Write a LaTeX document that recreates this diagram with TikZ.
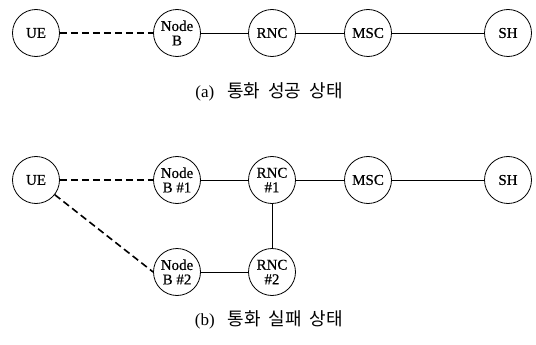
\documentclass[tikz,border=0pt]{standalone}
\usepackage{fontspec}
\setmainfont{Liberation Serif}
\newfontfamily\labelfont[FakeBold=0.5]{Liberation Serif}
\newfontfamily\kofont{Noto Sans CJK KR}
\newcommand\capgap{\hspace{8pt}}
\begin{document}
\begin{tikzpicture}[x=1pt,y=-1pt,
  netnode/.style={circle,draw,line width=0.8pt,minimum size=47pt,inner sep=0pt,
    align=center,font=\labelfont\fontsize{15}{14.5}\selectfont},
  wired/.style={line width=0.8pt},
  radio/.style={line width=1.6pt,dash pattern=on 7pt off 4pt},
  caption/.style={font=\fontsize{17}{17}\selectfont,inner sep=0pt}]
\useasboundingbox (0,0) rectangle (536,345);
% (a) successful call
\node[netnode] (ue1) at (36,33) {UE};
\node[netnode] (nb1) at (177,33) {Node\\B};
\node[netnode] (rnc1) at (272,33) {RNC};
\node[netnode] (msc1) at (368,33) {MSC};
\node[netnode] (sh1) at (508,33) {SH};
\draw[radio] (ue1) -- (nb1);
\draw[wired] (nb1) -- (rnc1);
\draw[wired] (rnc1) -- (msc1);
\draw[wired] (msc1) -- (sh1);
\node[caption] (capa) at (269,92) {(a)\hspace{13pt}{\kofont\fontsize{18}{18}\selectfont 통화\capgap 성공\capgap 상태}};
% (b) failed call
\node[netnode] (ue2) at (36,180) {UE};
\node[netnode] (nba) at (177,180) {Node\\B \#1};
\node[netnode] (rnca) at (272,180) {RNC\\\#1};
\node[netnode] (msc2) at (368,180) {MSC};
\node[netnode] (sh2) at (508,180) {SH};
\node[netnode] (nbb) at (177,272) {Node\\B \#2};
\node[netnode] (rncb) at (272,272) {RNC\\\#2};
\draw[radio] (ue2) -- (nba);
\draw[radio] (ue2) -- (nbb.west);
\draw[wired] (nba) -- (rnca);
\draw[wired] (rnca) -- (msc2);
\draw[wired] (msc2) -- (sh2);
\draw[wired] (rnca) -- (rncb);
\draw[wired] (nbb) -- (rncb);
\node[caption] (capb) at (269,320) {(b)\hspace{13pt}{\kofont\fontsize{18}{18}\selectfont 통화\capgap 실패\capgap 상태}};
\end{tikzpicture}
\end{document}
